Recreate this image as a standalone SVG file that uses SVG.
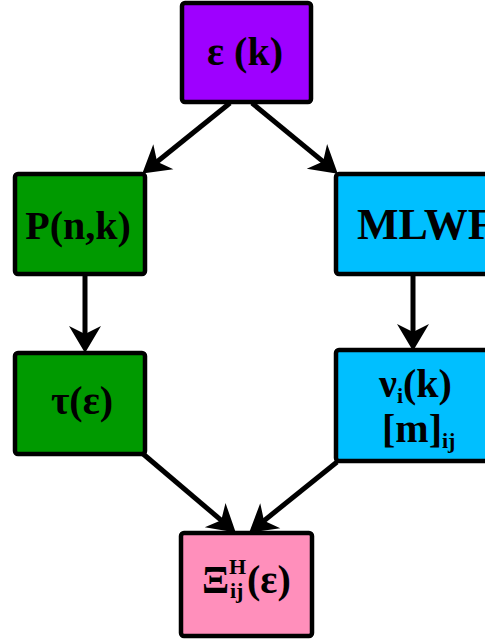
<svg xmlns="http://www.w3.org/2000/svg" width="485" height="641" viewBox="0 0 485 641">
<style>
.box{stroke:#000;stroke-width:4.5;stroke-linejoin:round}
.t{font-family:"Liberation Serif","Times New Roman",serif;font-weight:bold;font-size:40px;fill:#000;text-anchor:middle}
.st{text-anchor:start}
.s{font-size:22px}
.c{stroke:#000;stroke-width:5;fill:none}
</style>
<defs>
<marker id="ah" markerUnits="userSpaceOnUse" orient="auto" overflow="visible" markerWidth="1" markerHeight="1" refX="0" refY="0">
<path d="M15,0 L-12,-16 L-4,0 L-12,16 Z" fill="#000"/>
</marker>
</defs>
<g id="connectors">
<line class="c" x1="230" y1="103" x2="154" y2="164.2" marker-end="url(#ah)"/>
<line class="c" x1="252" y1="103" x2="326.2" y2="164.1" marker-end="url(#ah)"/>
<line class="c" x1="85" y1="275" x2="85" y2="338" marker-end="url(#ah)"/>
<line class="c" x1="413" y1="275" x2="413" y2="336" marker-end="url(#ah)"/>
<line class="c" x1="142" y1="453" x2="224.3" y2="522.9" marker-end="url(#ah)"/>
<line class="c" x1="337" y1="462" x2="260.9" y2="523.2" marker-end="url(#ah)"/>
</g>
<g id="eps">
<rect class="box" x="182" y="3" width="129" height="99" rx="3" fill="#9E00FF"/>
<text class="t" x="245" y="65">ε (k)</text>
</g>
<g id="pnk">
<rect class="box" x="15" y="174" width="130" height="100" rx="3" fill="#009A00"/>
<text class="t" x="78" y="239">P(n,k)</text>
</g>
<g id="mlwf">
<rect class="box" x="336" y="174" width="170" height="100" rx="3" fill="#00BFFF"/>
<text class="t st" x="357" y="239" style="font-size:44px">MLWF</text>
</g>
<g id="tau">
<rect class="box" x="15" y="353" width="130" height="101" rx="3" fill="#009A00"/>
<text class="t" x="82" y="414">τ(ε)</text>
</g>
<g id="nu">
<rect class="box" x="336" y="350" width="170" height="111" rx="3" fill="#00BFFF"/>
<text class="t st" x="379" y="397">ν<tspan class="s" dy="6">i</tspan><tspan dy="-6">(k)</tspan></text>
<text class="t st" x="382" y="442">[m]<tspan class="s" dy="6">ij</tspan></text>
</g>
<g id="xi">
<rect class="box" x="181" y="533" width="131" height="103" rx="3" fill="#FF8FBB"/>
<text class="t st" x="202" y="593">Ξ</text>
<text class="t s st" x="229" y="574">H</text>
<text class="t s st" x="230" y="598">ij</text>
<text class="t st" x="247" y="593">(ε)</text>
</g>
</svg>
